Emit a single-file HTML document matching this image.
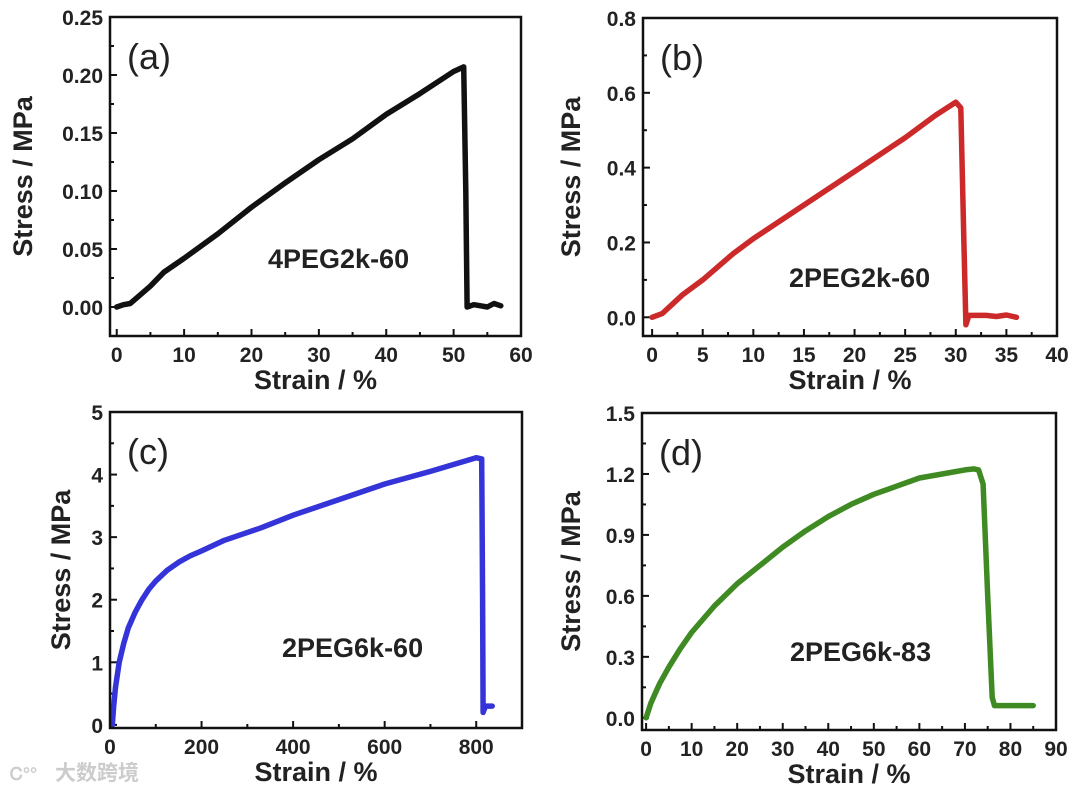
<!DOCTYPE html>
<html><head><meta charset="utf-8">
<style>
html,body{margin:0;padding:0;background:#fff;}
svg{display:block;font-family:"Liberation Sans",Arial,sans-serif;}
.tick{font-size:21px;font-weight:bold;fill:#222;}
.atitle{font-size:27px;font-weight:bold;fill:#222;}
.plabel{font-size:36px;fill:#222;}
.ann{font-size:27px;font-weight:bold;fill:#222;}
</style></head>
<body>
<svg id="fig" width="1080" height="791" viewBox="0 0 1080 791">
<text x="55" y="780" font-family="'Liberation Sans','Noto Sans CJK SC',sans-serif" font-size="21" fill="#ccc" font-weight="bold">大数跨境</text>
<text x="10" y="780" font-size="18" fill="#ccc" font-weight="bold">Ꮯ°°</text>
</svg>
<script>
// Panel (a) 4PEG2k-60
const aStrain = [0,1,2,3,5,7,10,15,20,25,30,35,40,45,50,51.5,51.8,52,53,54,55,56,57];
const aStress = [0,0.002,0.003,0.008,0.018,0.03,0.042,0.063,0.086,0.107,0.127,0.145,0.166,0.184,0.203,0.207,0.1,0,0.002,0.001,0,0.003,0.001];
const aXTicks = ["0","10","20","30","40","50","60"];
const aYTicks = ["0.00","0.05","0.10","0.15","0.20","0.25"];
// Panel (b) 2PEG2k-60
const bStrain = [0,1,3,5,8,10,15,20,25,28,30,30.5,30.8,31,31.3,33,34,35,36];
const bStress = [0,0.01,0.06,0.1,0.17,0.21,0.3,0.39,0.48,0.54,0.575,0.56,0.2,-0.02,0.005,0.005,0.002,0.006,0];
const bXTicks = ["0","5","10","15","20","25","30","35","40"];
const bYTicks = ["0.0","0.2","0.4","0.6","0.8"];
// Panel (c) 2PEG6k-60
const cStrain = [5,8,12,20,30,40,55,70,85,100,125,150,175,200,250,330,400,500,600,700,800,812,814,815,820,835];
const cStress = [0,0.3,0.6,1.0,1.3,1.55,1.8,2.0,2.17,2.3,2.47,2.6,2.7,2.78,2.95,3.15,3.35,3.6,3.85,4.05,4.27,4.25,2.0,0.2,0.3,0.3];
const cXTicks = ["0","200","400","600","800"];
const cYTicks = ["0","1","2","3","4","5"];
// Panel (d) 2PEG6k-83
const dStrain = [0,1,2,3,5,7.5,10,15,20,25,30,35,40,45,50,55,60,65,70,72,73,74,75,76,76.5,85];
const dStress = [0,0.07,0.12,0.17,0.25,0.34,0.42,0.55,0.66,0.75,0.84,0.92,0.99,1.05,1.1,1.14,1.18,1.2,1.22,1.225,1.22,1.15,0.6,0.1,0.06,0.06];
const dXTicks = ["0","10","20","30","40","50","60","70","80","90"];
const dYTicks = ["0.0","0.3","0.6","0.9","1.2","1.5"];

const NS="http://www.w3.org/2000/svg";
const svg=document.getElementById('fig');
function mk(tag,attrs,parent){const e=document.createElementNS(NS,tag);for(const k in attrs)e.setAttribute(k,attrs[k]);(parent||svg).appendChild(e);return e;}

function panel(p){
  const g=mk('g',{});
  
  
  const sx=v=>p.L+(v-p.xmin)/(p.xmax-p.xmin)*(p.R-p.L);
  const sy=v=>p.B-(v-p.ymin)/(p.ymax-p.ymin)*(p.B-p.T);
  const xv=p.xt.map(Number), yv=p.yt.map(Number);
  const xs=xv[1]-xv[0], ys=yv[1]-yv[0];
  for(let i=0;i<xv.length;i++){
    const t=mk('line',{x1:sx(xv[i]),x2:sx(xv[i]),y1:p.B,y2:p.B-7,stroke:'#111','stroke-width':2},g);
    
    if(i<xv.length-1){const m=mk('line',{x1:sx(xv[i]+xs/2),x2:sx(xv[i]+xs/2),y1:p.B,y2:p.B-4,stroke:'#111','stroke-width':2},g);
      }
    const l=mk('text',{x:sx(xv[i]),y:p.B+26,'text-anchor':'middle',class:'tick'},g);l.textContent=p.xt[i];
    
  }
  for(let i=0;i<yv.length;i++){
    const t=mk('line',{x1:p.L,x2:p.L+7,y1:sy(yv[i]),y2:sy(yv[i]),stroke:'#111','stroke-width':2},g);
    
    if(i<yv.length-1){const m=mk('line',{x1:p.L,x2:p.L+4,y1:sy(yv[i]+ys/2),y2:sy(yv[i]+ys/2),stroke:'#111','stroke-width':2},g);
      }
    const l=mk('text',{x:p.L-7,y:sy(yv[i])+8,'text-anchor':'end',class:'tick'},g);l.textContent=p.yt[i];
    
  }
  const d=p.x.map((v,i)=>(i?'L':'M')+sx(v).toFixed(1)+' '+sy(p.y[i]).toFixed(1)).join(' ');
  const c=mk('path',{d:d,fill:'none',stroke:p.color,'stroke-width':5.5,'stroke-linejoin':'round','stroke-linecap':'round'},g);
  
  const f=mk('rect',{x:p.L,y:p.T,width:p.R-p.L,height:p.B-p.T,fill:'none',stroke:'#111','stroke-width':2.5},g);
  
  const xt=mk('text',{x:(p.L+p.R)/2,y:p.B+53,'text-anchor':'middle',class:'atitle'},g);xt.textContent='Strain / %';
  
  const yt=mk('text',{x:0,y:0,'text-anchor':'middle',class:'atitle',transform:`translate(${p.ylx},${(p.T+p.B)/2}) rotate(-90)`},g);yt.textContent='Stress / MPa';
  
  const pl=mk('text',{x:p.L+17,y:p.T+52,class:'plabel'},g);pl.textContent='('+p.id+')';
  
  const an=mk('text',{x:p.annx,y:p.anny,class:'ann'},g);an.textContent=p.name;
  
}
panel({id:'a',L:110,R:521,T:17,B:336,xmin:-1,xmax:60,ymin:-0.025,ymax:0.25,x:aStrain,y:aStress,xt:aXTicks,yt:aYTicks,color:'#111',ylx:32,annx:268,anny:268,name:'4PEG2k-60'});
panel({id:'b',L:643,R:1057,T:18,B:336,xmin:-0.9,xmax:40,ymin:-0.05,ymax:0.8,x:bStrain,y:bStress,xt:bXTicks,yt:bYTicks,color:'#cc2a2a',ylx:580,annx:789,anny:287,name:'2PEG2k-60'});
panel({id:'c',L:110,R:522,T:412,B:728,xmin:0,xmax:900,ymin:-0.05,ymax:5,x:cStrain,y:cStress,xt:cXTicks,yt:cYTicks,color:'#3434d8',ylx:70,annx:282,anny:657,name:'2PEG6k-60'});
panel({id:'d',L:642,R:1056,T:413,B:730,xmin:-0.9,xmax:90,ymin:-0.06,ymax:1.5,x:dStrain,y:dStress,xt:dXTicks,yt:dYTicks,color:'#3f8a22',ylx:580,annx:790,anny:661,name:'2PEG6k-83'});
</script>
</body></html>
